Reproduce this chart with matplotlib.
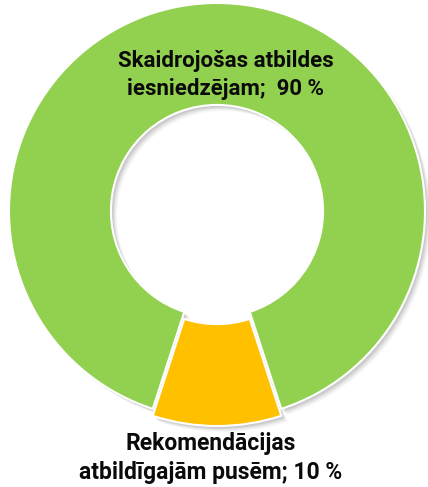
import matplotlib.pyplot as plt

# Data
labels = ["Skaidrojošas atbildes\niesniedzējam;  90 %",
          "Rekomendācijas\natbildīgajām pusēm; 10 %"]
values = [90, 10]
colors = ["#92D050", "#FFC000"]
explode = [0, 7]

fig = plt.figure(figsize=(4.28, 4.87), dpi=100)
ax = fig.add_axes([0, 0, 1, 1])

cx, cy = 217, 211
radius = 208
ring = 0.49 * radius

# soft drop shadow: stacked translucent grey copies
for off, a in [(6, 0.04), (5, 0.06), (4, 0.08), (3, 0.10), (2, 0.10)]:
    ax.pie(values, explode=explode, colors=["#606060"] * 2, startangle=108,
           center=(cx + off, cy + off), radius=radius,
           wedgeprops=dict(width=ring, alpha=a, linewidth=0))

ax.pie(values, explode=explode, colors=colors, startangle=108,
       center=(cx, cy), radius=radius,
       wedgeprops=dict(width=ring, edgecolor="white", linewidth=1.5))

ax.set_xlim(0, 428)
ax.set_ylim(487, 0)
ax.set_aspect("equal")
ax.axis("off")

ax.text(226, 75, labels[0], ha="center", va="center", fontsize=16,
        fontweight="bold", family="Roboto", linespacing=1.4, color="#0a0a0a")
ax.text(211, 458, labels[1], ha="center", va="center", fontsize=16.5,
        fontweight="bold", family="Roboto", linespacing=1.3, color="#0a0a0a")

fig.savefig("out.png", dpi=100)
